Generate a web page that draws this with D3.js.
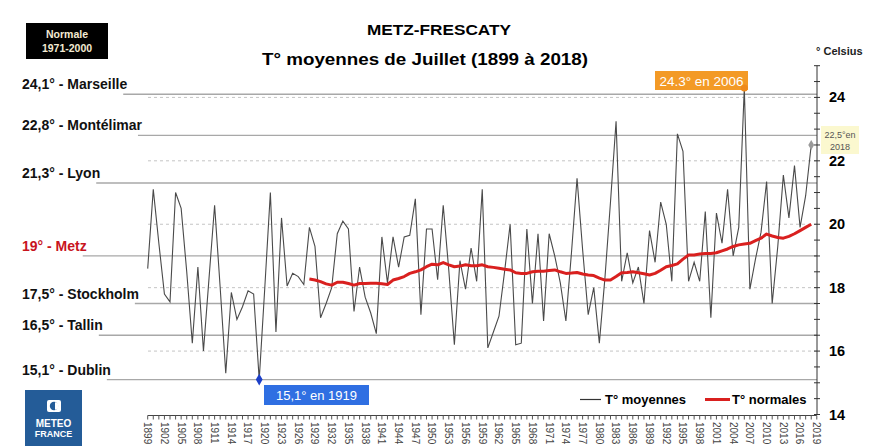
<!DOCTYPE html>
<html>
<head>
<meta charset="utf-8">
<script src="https://cdn.jsdelivr.net/npm/d3@7"></script>
<style>
  html, body { margin: 0; padding: 0; background: #fff; }
  svg { display: block; font-family: "Liberation Sans", Arial, sans-serif; }
</style>
</head>
<body>
<svg id="chart" width="875" height="446"></svg>
<script>
'use strict';

// T° moyennes de juillet, Metz-Frescaty, 1899 -> 2018
var years = d3.range(1899, 2019);
var tMoyennes = [
  18.6, 21.1, 19.4, 17.8, 17.55, 21.0, 20.5, 18.5, 16.25, 18.65,
  16.0, 18.3, 20.6, 18.0, 15.3, 17.85, 17.0, 17.4, 17.9, 17.8,
  15.1, 18.0, 21.0, 16.6, 20.2, 18.05, 18.45, 18.35, 18.1, 19.9,
  19.3, 17.05, 17.5, 18.0, 19.7, 20.1, 19.85, 17.25, 18.65, 17.7,
  17.2, 16.55, 19.6, 18.15, 19.6, 18.65, 19.6, 19.65, 20.8, 17.15,
  19.85, 19.85, 18.25, 20.6, 18.55, 16.2, 18.85, 17.95, 19.25, 18.2,
  21.1, 16.1, 16.6, 17.1, 18.5, 20.0, 16.2, 16.25, 19.85, 17.5,
  19.7, 16.95, 19.7, 19.0, 18.15, 16.95, 19.1, 21.45, 19.2, 17.15,
  18.0, 16.25, 18.3, 20.7, 23.25, 18.2, 19.1, 18.15, 18.65, 17.5,
  19.8, 18.8, 20.7, 20.0, 18.2, 22.85, 22.3, 18.2, 18.8, 18.2,
  20.4, 17.05, 20.35, 19.4, 21.1, 19.0, 19.9, 24.3, 17.95, 18.9,
  19.75, 21.35, 17.5, 19.3, 21.55, 20.2, 21.85, 19.9, 20.9, 22.5
];

// T° normales (moyenne glissante), 1928 -> 2018
var normYears = d3.range(1928, 2019);
var tNormales = [
  18.27, 18.24, 18.19, 18.12, 18.08, 18.17, 18.17, 18.13, 18.08, 18.13,
  18.13, 18.14, 18.14, 18.12, 18.1, 18.24, 18.29, 18.35, 18.45, 18.5,
  18.56, 18.66, 18.74, 18.72, 18.79, 18.72, 18.66, 18.68, 18.72, 18.69,
  18.69, 18.72, 18.66, 18.64, 18.61, 18.58, 18.56, 18.47, 18.45, 18.45,
  18.5, 18.52, 18.52, 18.54, 18.56, 18.5, 18.45, 18.46, 18.48, 18.43,
  18.4, 18.38, 18.3, 18.24, 18.24, 18.35, 18.47, 18.48, 18.5, 18.47,
  18.44, 18.4, 18.45, 18.55, 18.66, 18.7, 18.75, 18.9, 19.03, 19.03,
  19.06, 19.08, 19.08, 19.1, 19.16, 19.22, 19.3, 19.35, 19.38, 19.4,
  19.48, 19.56, 19.69, 19.63, 19.58, 19.56, 19.62, 19.7, 19.8, 19.9,
  20.0
];

// villes de reference (normale 1971-2000)
var refLabels = ['24,1° - Marseille', '22,8° - Montélimar', '21,3° - Lyon', '19° - Metz',
  '17,5° - Stockholm', '16,5° - Tallin', '15,1° - Dublin'];
var refValues = [24.1, 22.8, 21.3, 19, 17.5, 16.5, 15.1];

var yTicks = [14, 16, 18, 20, 22, 24];
var xTickLabels = d3.range(1899, 2020, 3);

var svg = d3.select('#chart');
var x = d3.scaleLinear().domain([1899, 2019]).range([147.7, 816.8]);
var y = d3.scaleLinear().domain([14, 25]).range([414.5, 65.7]);
var axisX = 817;

// titres (un peu etires comme sur l'original)
svg.append('text')
  .attr('x', 367).attr('y', 35)
  .attr('textLength', 144).attr('lengthAdjust', 'spacingAndGlyphs')
  .style('font-size', '14.5px').style('font-weight', 'bold')
  .text('METZ-FRESCATY');
svg.append('text')
  .attr('x', 262).attr('y', 65)
  .attr('textLength', 326).attr('lengthAdjust', 'spacingAndGlyphs')
  .style('font-size', '16px').style('font-weight', 'bold')
  .text('T° moyennes de Juillet (1899 à 2018)');

// cartouche "Normale 1971-2000"
svg.append('rect')
  .attr('x', 26).attr('y', 23).attr('width', 82).attr('height', 36)
  .attr('fill', '#000');
svg.append('text')
  .attr('x', 67).attr('y', 38).attr('text-anchor', 'middle')
  .attr('fill', '#f3ead2')
  .style('font-size', '10.5px').style('font-weight', 'bold')
  .text('Normale');
svg.append('text')
  .attr('x', 67).attr('y', 52).attr('text-anchor', 'middle')
  .attr('fill', '#f3ead2')
  .style('font-size', '10.5px').style('font-weight', 'bold')
  .text('1971-2000');

// grille pointillee
svg.append('g')
  .selectAll('line')
  .data(yTicks.slice(1))
  .join('line')
  .attr('x1', 148).attr('x2', axisX)
  .attr('y1', function(d) { return y(d); })
  .attr('y2', function(d) { return y(d); })
  .attr('stroke', '#c4c4c4')
  .attr('stroke-width', 1)
  .style('stroke-dasharray', '3, 3');

// villes de reference
var refG = svg.append('g');
refLabels.forEach(function(label, i) {
  var v = refValues[i];
  var t = refG.append('text')
    .attr('x', 22).attr('y', y(v) - 5)
    .attr('fill', label.indexOf('Metz') >= 0 ? '#c8141e' : '#111')
    .style('font-size', '14px').style('font-weight', 'bold')
    .text(label);
  var len = t.node().getComputedTextLength();
  refG.insert('line', 'text')
    .attr('x1', 22 + len - 4).attr('x2', axisX)
    .attr('y1', y(v)).attr('y2', y(v))
    .attr('stroke', '#a8a8a8')
    .attr('stroke-width', 1.3);
});

// axe des temperatures (a droite)
svg.append('line')
  .attr('x1', axisX).attr('x2', axisX)
  .attr('y1', y(25)).attr('y2', y(14))
  .attr('stroke', '#333');
svg.append('g')
  .selectAll('line')
  .data(d3.range(14, 25.01, 0.5))
  .join('line')
  .attr('x1', axisX - 3).attr('x2', axisX + 3)
  .attr('y1', function(d) { return y(d); })
  .attr('y2', function(d) { return y(d); })
  .attr('stroke', '#333');
svg.append('g')
  .selectAll('text')
  .data(yTicks)
  .join('text')
  .attr('x', 829)
  .attr('y', function(d) { return y(d) + 5; })
  .style('font-size', '14.5px').style('font-weight', 'bold')
  .text(function(d) { return d; });
svg.append('text')
  .attr('x', 816).attr('y', 55)
  .style('font-size', '11px').style('font-weight', 'bold')
  .attr('fill', '#222')
  .text('° Celsius');

// axe des annees
var xAxisY = 415.5;
svg.append('line')
  .attr('x1', x(1899)).attr('x2', x(2019))
  .attr('y1', xAxisY).attr('y2', xAxisY)
  .attr('stroke', '#444');
svg.append('g')
  .selectAll('line')
  .data(d3.range(1899, 2020))
  .join('line')
  .attr('x1', function(d) { return x(d); })
  .attr('x2', function(d) { return x(d); })
  .attr('y1', xAxisY).attr('y2', xAxisY + 4)
  .attr('stroke', '#555');
svg.append('g')
  .selectAll('text')
  .data(xTickLabels)
  .join('text')
  .attr('transform', function(d) { return 'translate(' + (x(d) - 1) + ',422) rotate(90)'; })
  .attr('dominant-baseline', 'middle')
  .attr('fill', '#444')
  .style('font-size', '10px')
  .text(function(d) { return d; });

// courbes
var line = d3.line()
  .x(function(d) { return x(d[0]); })
  .y(function(d) { return y(d[1]); });

svg.append('path')
  .datum(d3.zip(years, tMoyennes))
  .attr('d', line)
  .attr('fill', 'none')
  .attr('stroke', '#4a4a4a')
  .attr('stroke-width', 1.1);

svg.append('path')
  .datum(d3.zip(normYears, tNormales))
  .attr('d', line)
  .attr('fill', 'none')
  .attr('stroke', '#d9201f')
  .attr('stroke-width', 3)
  .attr('stroke-linejoin', 'round');

// annotations
var iMax = years.indexOf(2006);
var iMin = years.indexOf(1919);
var iLast = years.indexOf(2018);

svg.append('rect')
  .attr('x', 655).attr('y', 71).attr('width', 93).attr('height', 19)
  .attr('fill', '#f39a26');
svg.append('text')
  .attr('x', 701.5).attr('y', 85.5).attr('text-anchor', 'middle')
  .attr('fill', '#fff').style('font-size', '13.5px')
  .text('24.3° en 2006');
svg.append('circle')
  .attr('cx', x(2006)).attr('cy', y(tMoyennes[iMax])).attr('r', 3.5)
  .attr('fill', '#ee8a1c');

svg.append('rect')
  .attr('x', 264).attr('y', 385).attr('width', 105).attr('height', 20)
  .attr('fill', '#2f6fe2');
svg.append('text')
  .attr('x', 316.5).attr('y', 400).attr('text-anchor', 'middle')
  .attr('fill', '#fff').style('font-size', '13px')
  .text('15,1° en 1919');
svg.append('path')
  .attr('d', d3.symbol(d3.symbolDiamond, 40)())
  .attr('transform', 'translate(' + x(1919) + ',' + y(tMoyennes[iMin]) + ')')
  .attr('fill', '#1c3fc8');

svg.append('rect')
  .attr('x', 821).attr('y', 126).attr('width', 38).attr('height', 28)
  .attr('fill', '#fbf8cf');
svg.append('text')
  .attr('x', 840).attr('y', 137.5).attr('text-anchor', 'middle')
  .attr('fill', '#555').style('font-size', '9px')
  .text('22,5°en');
svg.append('text')
  .attr('x', 840).attr('y', 150).attr('text-anchor', 'middle')
  .attr('fill', '#555').style('font-size', '9px')
  .text('2018');
svg.append('path')
  .attr('d', d3.symbol(d3.symbolDiamond, 30)())
  .attr('transform', 'translate(' + x(2018) + ',' + y(tMoyennes[iLast]) + ')')
  .attr('fill', '#9a9a9a');

// legende
var leg = svg.append('g');
leg.append('line')
  .attr('x1', 580).attr('x2', 601).attr('y1', 399.5).attr('y2', 399.5)
  .attr('stroke', '#333').attr('stroke-width', 1.2);
leg.append('text')
  .attr('x', 605).attr('y', 404)
  .style('font-size', '13px').style('font-weight', 'bold')
  .text('T° moyennes');
leg.append('line')
  .attr('x1', 705).attr('x2', 730).attr('y1', 399.5).attr('y2', 399.5)
  .attr('stroke', '#d9201f').attr('stroke-width', 3);
leg.append('text')
  .attr('x', 732).attr('y', 404)
  .style('font-size', '13px').style('font-weight', 'bold')
  .text('T° normales');

// logo
var logo = svg.append('g');
logo.append('rect')
  .attr('x', 25).attr('y', 390).attr('width', 57).attr('height', 56)
  .attr('fill', '#245c98');
logo.append('rect')
  .attr('x', 47).attr('y', 400).attr('width', 14).attr('height', 12).attr('rx', 2)
  .attr('fill', '#fff');
logo.append('circle')
  .attr('cx', 54).attr('cy', 406).attr('r', 4.2)
  .attr('fill', '#245c98');
logo.append('path')
  .attr('d', 'M55,402.3 A3.7,3.7 0 0,1 55,409.7 Z')
  .attr('fill', '#fff');
logo.append('text')
  .attr('x', 53.5).attr('y', 427).attr('text-anchor', 'middle')
  .attr('fill', '#fff').style('font-size', '10px').style('font-weight', 'bold')
  .text('METEO');
logo.append('text')
  .attr('x', 53.5).attr('y', 437).attr('text-anchor', 'middle')
  .attr('fill', '#fff').style('font-size', '9px').style('font-weight', 'bold')
  .text('FRANCE');
</script>
</body>
</html>
